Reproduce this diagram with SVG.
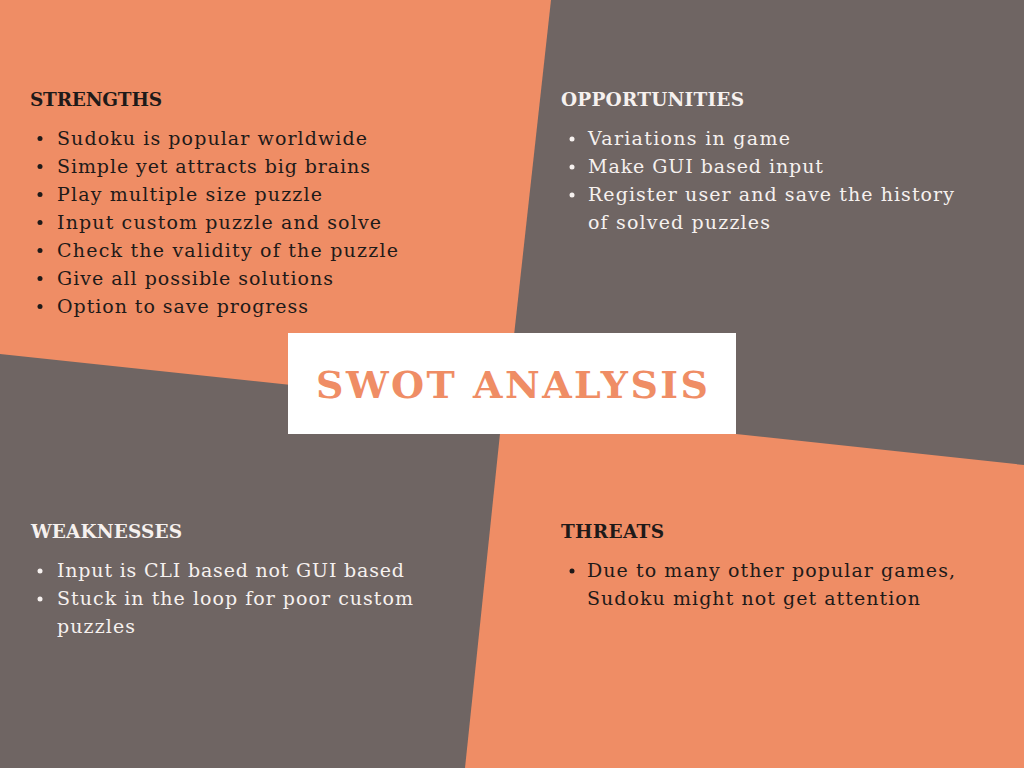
<svg xmlns="http://www.w3.org/2000/svg" width="1024" height="768" viewBox="0 0 1024 768">
  <style>
    .orange { fill: #EF8D65; }
    .gray { fill: #6F6563; }
    .head { font-family: "DejaVu Serif", "Liberation Serif", serif; font-weight: bold; font-size: 18.5px; }
    .body { font-family: "DejaVu Serif", "Liberation Serif", serif; font-size: 19px; }
    .dark { fill: #1E1A19; }
    .light { fill: #F6F1EF; }
    .title { font-family: "DejaVu Serif", "Liberation Serif", serif; font-weight: bold; font-size: 38px; fill: #EF8D65; }
  </style>

  <!-- background panels -->
  <rect class="gray" x="0" y="0" width="1024" height="768"/>
  <polygon class="orange" points="0,0 551,0 506,408 0,354"/>
  <polygon class="orange" points="502.6,408.8 1024,465 1024,768 465,768"/>

  <!-- Strengths -->
  <g id="strengths">
    <text class="head dark" x="30" y="106" textLength="132" lengthAdjust="spacing">STRENGTHS</text>
    <g class="dark">
      <circle cx="40" cy="138.5" r="2.5"/>
      <circle cx="40" cy="166.5" r="2.5"/>
      <circle cx="40" cy="194.5" r="2.5"/>
      <circle cx="40" cy="222.5" r="2.5"/>
      <circle cx="40" cy="250.5" r="2.5"/>
      <circle cx="40" cy="278.5" r="2.5"/>
      <circle cx="40" cy="306.5" r="2.5"/>
    </g>
    <g class="body dark">
      <text x="57" y="144.5" textLength="310" lengthAdjust="spacing">Sudoku is popular worldwide</text>
      <text x="57" y="172.5" textLength="313" lengthAdjust="spacing">Simple yet attracts big brains</text>
      <text x="57" y="200.5" textLength="265" lengthAdjust="spacing">Play multiple size puzzle</text>
      <text x="57" y="228.5" textLength="324" lengthAdjust="spacing">Input custom puzzle and solve</text>
      <text x="57" y="256.5" textLength="341" lengthAdjust="spacing">Check the validity of the puzzle</text>
      <text x="57" y="284.5" textLength="276" lengthAdjust="spacing">Give all possible solutions</text>
      <text x="57" y="312.5" textLength="251" lengthAdjust="spacing">Option to save progress</text>
    </g>
  </g>

  <!-- Opportunities -->
  <g id="opportunities">
    <text class="head light" x="561" y="106" textLength="183" lengthAdjust="spacing">OPPORTUNITIES</text>
    <g class="light">
      <circle cx="572" cy="139" r="2.5"/>
      <circle cx="572" cy="167" r="2.5"/>
      <circle cx="572" cy="195" r="2.5"/>
    </g>
    <g class="body light">
      <text x="588" y="145" textLength="202" lengthAdjust="spacing">Variations in game</text>
      <text x="588" y="173" textLength="235" lengthAdjust="spacing">Make GUI based input</text>
      <text x="588" y="201" textLength="366" lengthAdjust="spacing">Register user and save the history</text>
      <text x="588" y="229" textLength="182" lengthAdjust="spacing">of solved puzzles</text>
    </g>
  </g>

  <!-- Weaknesses -->
  <g id="weaknesses">
    <text class="head light" x="31" y="538" textLength="151" lengthAdjust="spacing">WEAKNESSES</text>
    <g class="light">
      <circle cx="40" cy="571" r="2.5"/>
      <circle cx="40" cy="599" r="2.5"/>
    </g>
    <g class="body light">
      <text x="57" y="577" textLength="347" lengthAdjust="spacing">Input is CLI based not GUI based</text>
      <text x="57" y="605" textLength="356" lengthAdjust="spacing">Stuck in the loop for poor custom</text>
      <text x="57" y="633" textLength="78" lengthAdjust="spacing">puzzles</text>
    </g>
  </g>

  <!-- Threats -->
  <g id="threats">
    <text class="head dark" x="561" y="538" textLength="103" lengthAdjust="spacing">THREATS</text>
    <circle class="dark" cx="572" cy="571" r="2.5"/>
    <g class="body dark">
      <text x="587" y="577" textLength="368" lengthAdjust="spacing">Due to many other popular games,</text>
      <text x="587" y="605" textLength="333" lengthAdjust="spacing">Sudoku might not get attention</text>
    </g>
  </g>

  <!-- Centre title card -->
  <g id="title">
    <rect x="288" y="333" width="448" height="101" fill="#FFFFFF"/>
    <text class="title" x="316" y="398" textLength="392" lengthAdjust="spacing">SWOT ANALYSIS</text>
  </g>
</svg>
